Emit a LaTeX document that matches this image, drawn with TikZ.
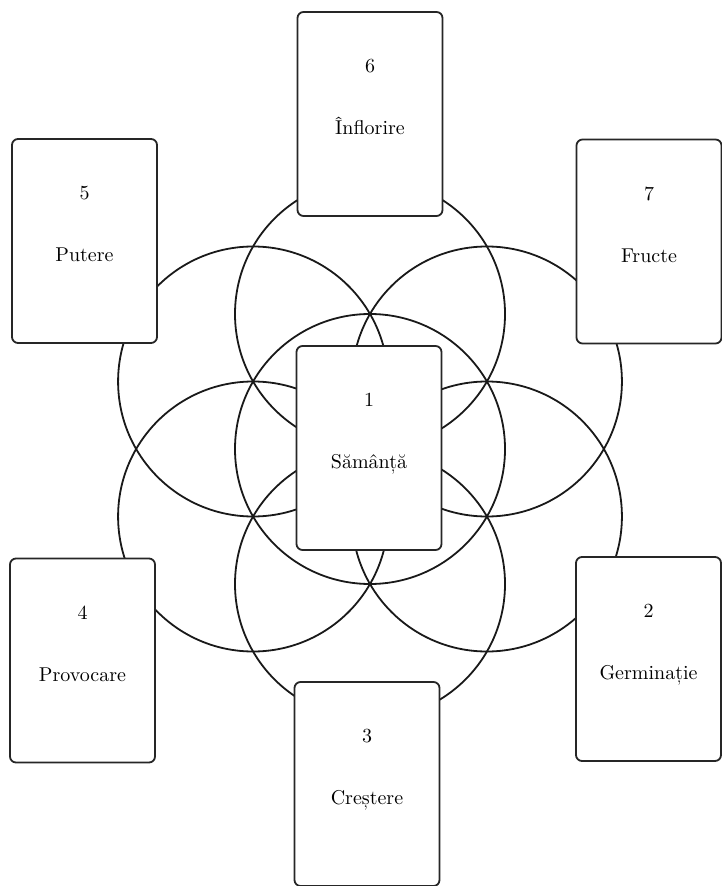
\documentclass[tikz,border=0pt]{standalone}
\usepackage{tikz}
\tikzset{
  ring/.style={draw=black!90, line width=0.9pt},
  card/.style={draw=black!85, line width=0.9pt, fill=white, rounded corners=3pt,
    minimum width=72.5pt, minimum height=102pt, inner sep=0pt},
  cardtext/.style={anchor=base, inner sep=0pt, font=\normalsize}
}

\begin{document}
\begin{tikzpicture}[x=0.5pt,y=-0.5pt]
  \useasboundingbox (0,0) rectangle (721,886);
  % seed of life
  \draw[ring] (370,449) circle[radius=67.5pt];
  \foreach \a in {30,90,...,330}
    \draw[ring] (370,449) ++(\a:135) circle[radius=67.5pt];
  % cards
  \node[card] (seed) at (369,448) {};
  \node[cardtext] (seednum) at ([yshift=-30.75pt]seed.north) {1};
  \node[cardtext] (seedlbl) at ([yshift=-61.75pt]seed.north) {Sămânță};
  \node[card] (sprout) at (648.5,659) {};
  \node[cardtext] (sproutnum) at ([yshift=-30.75pt]sprout.north) {2};
  \node[cardtext] (sproutlbl) at ([yshift=-61.75pt]sprout.north) {Germinație};
  \node[card] (growth) at (367,784) {};
  \node[cardtext] (growthnum) at ([yshift=-30.75pt]growth.north) {3};
  \node[cardtext] (growthlbl) at ([yshift=-61.75pt]growth.north) {Creștere};
  \node[card] (trial) at (82.5,660.5) {};
  \node[cardtext] (trialnum) at ([yshift=-30.75pt]trial.north) {4};
  \node[cardtext] (triallbl) at ([yshift=-61.75pt]trial.north) {Provocare};
  \node[card] (power) at (84.5,241) {};
  \node[cardtext] (powernum) at ([yshift=-30.75pt]power.north) {5};
  \node[cardtext] (powerlbl) at ([yshift=-61.75pt]power.north) {Putere};
  \node[card] (bloom) at (370,114) {};
  \node[cardtext] (bloomnum) at ([yshift=-30.75pt]bloom.north) {6};
  \node[cardtext] (bloomlbl) at ([yshift=-61.75pt]bloom.north) {Înflorire};
  \node[card] (fruit) at (649,241.5) {};
  \node[cardtext] (fruitnum) at ([yshift=-30.75pt]fruit.north) {7};
  \node[cardtext] (fruitlbl) at ([yshift=-61.75pt]fruit.north) {Fructe};
\end{tikzpicture}
\end{document}
